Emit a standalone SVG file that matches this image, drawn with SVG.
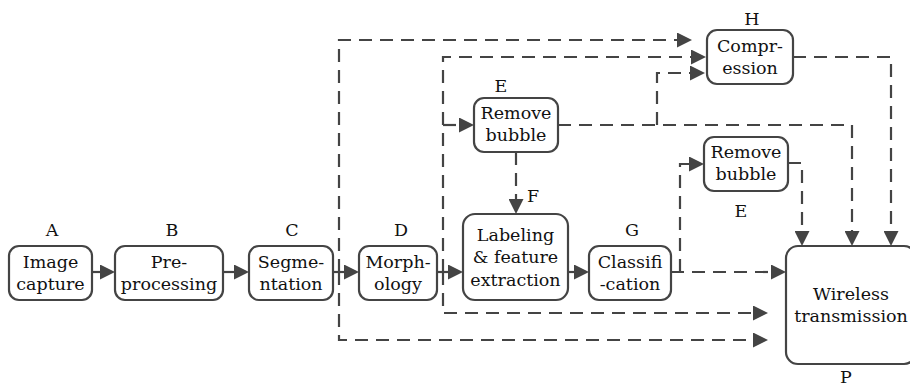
<svg xmlns="http://www.w3.org/2000/svg" width="910" height="387" viewBox="0 0 910 387">
<style>
.box{fill:#fff;stroke:#444;stroke-width:2.2}
.t{font-family:"DejaVu Serif","Liberation Serif",serif;font-size:17.5px;fill:#111;text-anchor:middle}
.s{fill:none;stroke:#444;stroke-width:2.2}
.d{fill:none;stroke:#444;stroke-width:2.2;stroke-dasharray:13 8}
</style>
<defs>
<marker id="ah" viewBox="0 0 15 15" refX="5" refY="7.5" markerWidth="15" markerHeight="15" markerUnits="userSpaceOnUse" orient="auto">
<path d="M0,0 L15,7.5 L0,15 z" fill="#444"/>
</marker>
</defs>
<rect width="910" height="387" fill="#fff"/>
<g id="connectors">
<path class="s" d="M92,272 H105" marker-end="url(#ah)"/>
<path class="s" d="M223,272 H239" marker-end="url(#ah)"/>
<path class="s" d="M333,272 H349" marker-end="url(#ah)"/>
<path class="s" d="M437,272 H453" marker-end="url(#ah)"/>
<path class="s" d="M568,272 H579" marker-end="url(#ah)"/>
<path class="d" d="M339,272 V40 H682" marker-end="url(#ah)"/>
<path class="d" d="M339,272 V340 H758" marker-end="url(#ah)"/>
<path class="d" d="M443,272 V57 H696" marker-end="url(#ah)"/>
<path class="d" d="M443,272 V313 H758" marker-end="url(#ah)"/>
<path class="d" d="M443,125 H464" marker-end="url(#ah)"/>
<path class="d" d="M558,125 H852 V236" marker-end="url(#ah)"/>
<path class="d" d="M657,125 V73 H695" marker-end="url(#ah)"/>
<path class="d" d="M793,57 H891 V236" marker-end="url(#ah)"/>
<path class="d" d="M516,152 V204" marker-end="url(#ah)"/>
<path class="d" d="M671,272 H776" marker-end="url(#ah)"/>
<path class="d" d="M680,272 V164 H694" marker-end="url(#ah)"/>
<path class="d" d="M788,163 H802 V236" marker-end="url(#ah)"/>
</g>
<g id="A">
<text class="t" x="52" y="236">A</text>
<rect class="box" x="9" y="246" width="83" height="54" rx="10"/>
<text class="t" x="50.5" y="268">Image</text>
<text class="t" x="50.5" y="290">capture</text>
</g>
<g id="B">
<text class="t" x="172" y="236">B</text>
<rect class="box" x="115" y="246" width="108" height="54" rx="10"/>
<text class="t" x="169" y="268">Pre-</text>
<text class="t" x="169" y="290">processing</text>
</g>
<g id="C">
<text class="t" x="292" y="236">C</text>
<rect class="box" x="249" y="246" width="84" height="54" rx="10"/>
<text class="t" x="291" y="268">Segme-</text>
<text class="t" x="291" y="290">ntation</text>
</g>
<g id="D">
<text class="t" x="401" y="236">D</text>
<rect class="box" x="359" y="246" width="78" height="54" rx="10"/>
<text class="t" x="398" y="268">Morph-</text>
<text class="t" x="398" y="290">ology</text>
</g>
<g id="F">
<text class="t" x="533" y="202">F</text>
<rect class="box" x="463" y="214" width="105" height="86" rx="12"/>
<text class="t" x="515.5" y="241">Labeling</text>
<text class="t" x="515.5" y="263">&amp; feature</text>
<text class="t" x="515.5" y="286">extraction</text>
</g>
<g id="G">
<text class="t" x="632" y="236">G</text>
<rect class="box" x="589" y="246" width="82" height="54" rx="10"/>
<text class="t" x="630" y="268">Classifi</text>
<text class="t" x="630" y="290">-cation</text>
</g>
<g id="E1">
<text class="t" x="501" y="92">E</text>
<rect class="box" x="474" y="98" width="84" height="54" rx="10"/>
<text class="t" x="516" y="119">Remove</text>
<text class="t" x="516" y="141">bubble</text>
</g>
<g id="E2">
<rect class="box" x="704" y="137" width="84" height="54" rx="10"/>
<text class="t" x="746" y="158">Remove</text>
<text class="t" x="746" y="180">bubble</text>
<text class="t" x="741" y="217">E</text>
</g>
<g id="H">
<text class="t" x="752" y="25">H</text>
<rect class="box" x="707" y="30" width="86" height="54" rx="10"/>
<text class="t" x="750" y="52">Compr-</text>
<text class="t" x="750" y="74">ession</text>
</g>
<g id="P">
<rect class="box" x="786" y="246" width="130" height="118" rx="12"/>
<text class="t" x="851" y="300">Wireless</text>
<text class="t" x="851" y="322">transmission</text>
<text class="t" x="846" y="383">P</text>
</g>
</svg>
